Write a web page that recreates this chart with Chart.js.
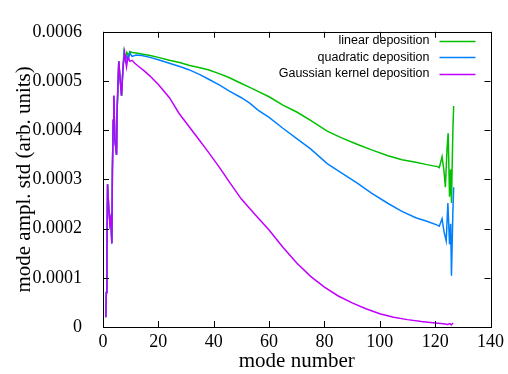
<!DOCTYPE html>
<html>
<head>
<meta charset="utf-8">
<script src="https://cdn.jsdelivr.net/npm/chart.js@4.4.1/dist/chart.umd.min.js"></script>
<style>
html, body { margin: 0; padding: 0; background: #fff; }
canvas { display: block; }
</style>
</head>
<body>
<canvas id="grafico" width="508" height="374"></canvas>
<script>
// -----------------------------
// DATOS
// -----------------------------
// tramo inicial común a las tres curvas (modos bajos, muy ruidoso)
const modosIniciales = [1, 1.2, 1.4, 1.65, 2.1, 2.5, 2.8, 3.2, 3.4, 3.7, 3.9, 4.3, 4.9, 5.1, 5.7, 6.1, 6.7, 7.2];
const amplIniciales = [0.2e-4, 0.7e-4, 1.5e-4, 2.9e-4, 2.4e-4, 2.1e-4, 2.2e-4, 1.7e-4, 3.2e-4, 4.2e-4, 4.7e-4, 3.8e-4, 3.5e-4, 4.4e-4, 5.4e-4, 5.1e-4, 4.7e-4, 5.25e-4];

const modosLineal = [7.6, 8.1, 8.6, 9.2, 9.7, 10.5, 12, 14, 17, 20, 24, 28, 31, 35, 38, 42, 45.5, 50, 53, 56, 60, 65, 70, 75, 81, 86, 92, 97, 103, 108, 113, 117, 120.8, 121.5, 122.5, 123.2, 123.7, 124.3, 124.7, 125.2, 125.6, 125.9, 126.4, 126.7];
const amplLineal = [5.6e-4, 5.45e-4, 5.58e-4, 5.52e-4, 5.6e-4, 5.58e-4, 5.57e-4, 5.55e-4, 5.52e-4, 5.48e-4, 5.42e-4, 5.37e-4, 5.32e-4, 5.27e-4, 5.23e-4, 5.15e-4, 5.07e-4, 4.95e-4, 4.87e-4, 4.79e-4, 4.68e-4, 4.51e-4, 4.37e-4, 4.2e-4, 3.98e-4, 3.85e-4, 3.71e-4, 3.6e-4, 3.48e-4, 3.4e-4, 3.35e-4, 3.3e-4, 3.26e-4, 3.24e-4, 3.46e-4, 3.17e-4, 2.84e-4, 3.62e-4, 3.94e-4, 2.65e-4, 3.2e-4, 2.52e-4, 4.0e-4, 4.49e-4];

const modosCuadratica = [7.6, 8.1, 8.6, 9.2, 9.7, 10.5, 12, 14, 17, 20, 24, 28, 31, 35, 38, 42, 45.5, 50, 53, 56, 60, 65, 70, 75, 81, 86, 92, 97, 103, 108, 113, 117, 120.8, 121.5, 122.5, 123.2, 124, 124.6, 125.2, 125.6, 125.9, 126.4, 126.7];
const amplCuadratica = [5.55e-4, 5.4e-4, 5.5e-4, 5.45e-4, 5.57e-4, 5.5e-4, 5.53e-4, 5.52e-4, 5.48e-4, 5.43e-4, 5.36e-4, 5.29e-4, 5.23e-4, 5.13e-4, 5.04e-4, 4.92e-4, 4.8e-4, 4.66e-4, 4.55e-4, 4.41e-4, 4.26e-4, 4.04e-4, 3.83e-4, 3.62e-4, 3.32e-4, 3.14e-4, 2.92e-4, 2.72e-4, 2.51e-4, 2.35e-4, 2.22e-4, 2.15e-4, 2.07e-4, 2.05e-4, 2.2e-4, 1.94e-4, 1.75e-4, 2.52e-4, 1.68e-4, 2.1e-4, 1.04e-4, 2.33e-4, 2.84e-4];

const modosGauss = [7.8, 8.5, 9, 9.7, 10.5, 11.5, 13, 15, 17, 20, 24, 27.5, 31, 34.5, 38, 42, 46, 50, 55, 60, 65, 70, 75, 80, 85, 90, 95, 100, 105, 110, 115, 120, 123, 124.5, 125.3, 125.8, 126.5];
const amplGauss = [5.58e-4, 5.29e-4, 5.49e-4, 5.4e-4, 5.42e-4, 5.36e-4, 5.29e-4, 5.2e-4, 5.1e-4, 4.93e-4, 4.66e-4, 4.34e-4, 4.08e-4, 3.82e-4, 3.56e-4, 3.25e-4, 2.92e-4, 2.6e-4, 2.28e-4, 1.97e-4, 1.62e-4, 1.3e-4, 1.03e-4, 0.81e-4, 0.63e-4, 0.49e-4, 0.37e-4, 0.27e-4, 0.2e-4, 0.15e-4, 0.11e-4, 0.08e-4, 0.065e-4, 0.05e-4, 0.07e-4, 0.04e-4, 0.08e-4];

const etiquetasX = ["0", "20", "40", "60", "80", "100", "120", "140"];
const etiquetasY = ["0", "0.0001", "0.0002", "0.0003", "0.0004", "0.0005", "0.0006"];

const nombres = ["linear deposition", "quadratic deposition", "Gaussian kernel deposition"];
const colores = ["#00c000", "#0080ff", "#c000ff"];

// -----------------------------
// CONSTRUCCIÓN DE SERIES
// -----------------------------
function serie(modos, ampl) {
    const todosModos = modosIniciales.concat(modos);
    const todasAmpl = amplIniciales.concat(ampl);
    return todosModos.map((m, i) => ({ x: m, y: todasAmpl[i] }));
}

const series = [
    serie(modosLineal, amplLineal),
    serie(modosCuadratica, amplCuadratica),
    serie(modosGauss, amplGauss)
];

// -----------------------------
// PLUGIN: marco, ticks interiores y leyenda
// -----------------------------
const marco = {
    id: "marco",
    afterDatasetsDraw(chart) {
        const { ctx, chartArea: a, scales } = chart;
        ctx.save();
        ctx.strokeStyle = "#000";
        ctx.lineWidth = 1;
        ctx.beginPath();
        for (const t of scales.x.ticks) {
            const px = Math.round(scales.x.getPixelForValue(t.value)) + 0.5;
            ctx.moveTo(px, a.bottom); ctx.lineTo(px, a.bottom - 6);
            ctx.moveTo(px, a.top); ctx.lineTo(px, a.top + 6);
        }
        for (const t of scales.y.ticks) {
            const py = Math.round(scales.y.getPixelForValue(t.value)) + 0.5;
            ctx.moveTo(a.left, py); ctx.lineTo(a.left + 6, py);
            ctx.moveTo(a.right, py); ctx.lineTo(a.right - 6, py);
        }
        ctx.stroke();
        ctx.strokeRect(Math.round(a.left) + 0.5, Math.round(a.top) + 0.5,
            Math.round(a.right - a.left), Math.round(a.bottom - a.top));

        // leyenda
        ctx.font = "12.5px 'Liberation Sans', Arial, sans-serif";
        ctx.textAlign = "right";
        ctx.textBaseline = "middle";
        ctx.fillStyle = "#000";
        chart.data.datasets.forEach((ds, i) => {
            const y = a.top + 9 + i * 16.6;
            ctx.fillText(ds.label, a.right - 61, y);
            ctx.strokeStyle = ds.borderColor;
            ctx.lineWidth = 1.5;
            ctx.beginPath();
            ctx.moveTo(a.right - 51, Math.round(y) + 0.5);
            ctx.lineTo(a.right - 15, Math.round(y) + 0.5);
            ctx.stroke();
        });
        ctx.restore();
    }
};

// -----------------------------
// GRÁFICO
// -----------------------------
const fuenteSerif = "'Liberation Serif', 'Times New Roman', serif";

new Chart(document.getElementById("grafico"), {
    type: "line",
    data: {
        datasets: series.map((d, i) => ({
            label: nombres[i],
            data: d,
            borderColor: colores[i],
            backgroundColor: colores[i],
            borderWidth: 1.5,
            pointRadius: 0,
            tension: 0,
            fill: false,
            order: 2 - i
        }))
    },
    options: {
        responsive: false,
        animation: false,
        events: [],
        layout: { padding: { top: 16, right: 15, left: 0, bottom: 0 } },
        plugins: { legend: { display: false }, tooltip: { enabled: false } },
        scales: {
            x: {
                type: "linear",
                min: 0,
                max: 140,
                grid: { display: false, drawTicks: false },
                border: { display: false },
                ticks: {
                    stepSize: 20,
                    autoSkip: false,
                    maxRotation: 0,
                    padding: 4,
                    color: "#000",
                    font: { family: fuenteSerif, size: 18 },
                    callback: (v, i) => etiquetasX[i]
                },
                title: {
                    display: true,
                    text: "mode number",
                    color: "#000",
                    font: { family: fuenteSerif, size: 21 },
                    padding: { top: 0, bottom: 0 }
                },
                afterFit: s => { s.height = 47; }
            },
            y: {
                min: 0,
                max: 0.0006,
                grid: { display: false, drawTicks: false },
                border: { display: false },
                ticks: {
                    stepSize: 0.0001,
                    autoSkip: false,
                    padding: 21,
                    color: "#000",
                    font: { family: fuenteSerif, size: 18 },
                    callback: (v, i) => etiquetasY[i]
                },
                title: {
                    display: true,
                    text: "mode ampl. std (arb. units)",
                    color: "#000",
                    font: { family: fuenteSerif, size: 21 },
                    padding: { top: 12, bottom: 0 }
                },
                afterFit: s => { s.width = 103; }
            }
        }
    },
    plugins: [marco]
});
</script>
</body>
</html>
